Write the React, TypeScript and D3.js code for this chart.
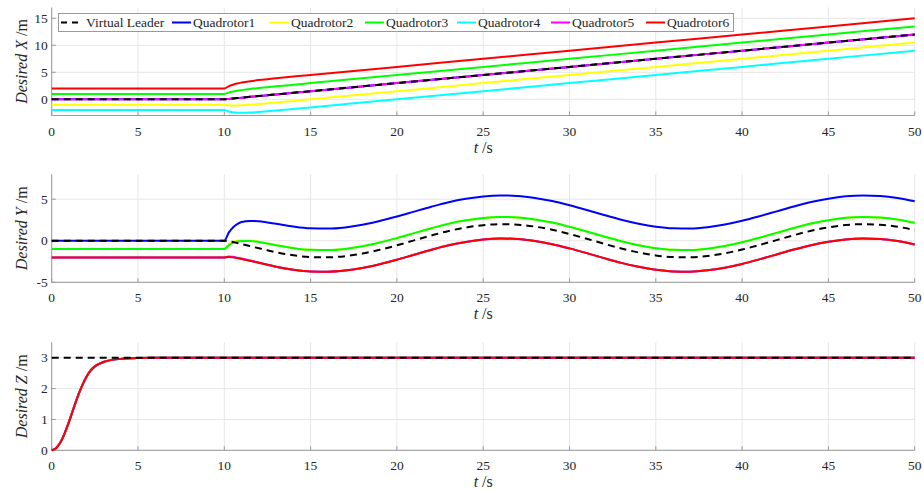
import React from 'react';
import * as d3 from 'd3';

// ---------- data ----------
const X_TICKS = [0, 5, 10, 15, 20, 25, 30, 35, 40, 45, 50];
const NAMES = ['Virtual Leader', 'Quadrotor1', 'Quadrotor2', 'Quadrotor3', 'Quadrotor4', 'Quadrotor5', 'Quadrotor6'];
const QUAD_COLORS = ['#0000ff', '#ffff00', '#00ff00', '#00ffff', '#ff00ff', '#ff0000'];

// Desired X
const T_X = [0, 10, 10.25, 10.5, 10.75, 11, 11.5, 12, 12.5, 13, 14, 15, 20, 25, 30, 35, 40, 45, 50];
const LEADER_X = [0, 0, 0.075, 0.15, 0.225, 0.3, 0.45, 0.6, 0.75, 0.9, 1.2, 1.5, 3, 4.5, 6, 7.5, 9, 10.5, 12];
const Q1_X = [0, 0, 0.075, 0.15, 0.225, 0.3, 0.45, 0.6, 0.75, 0.9, 1.2, 1.5, 3, 4.5, 6, 7.5, 9, 10.5, 12];
const Q2_X = [-1, -1, -1.09, -1.13, -1.13, -1.1, -1.01, -0.88, -0.74, -0.6, -0.3, 0, 1.5, 3, 4.5, 6, 7.5, 9, 10.5];
const Q3_X = [1, 1, 1.24, 1.43, 1.58, 1.7, 1.91, 2.08, 2.24, 2.4, 2.7, 3, 4.5, 6, 7.5, 9, 10.5, 12, 13.5];
const Q4_X = [-2, -2, -2.25, -2.4, -2.48, -2.5, -2.46, -2.36, -2.23, -2.09, -1.8, -1.5, 0, 1.5, 3, 4.5, 6, 7.5, 9];
const Q5_X = [0, 0, 0.075, 0.15, 0.225, 0.3, 0.45, 0.6, 0.75, 0.9, 1.2, 1.5, 3, 4.5, 6, 7.5, 9, 10.5, 12];
const Q6_X = [2, 2, 2.4, 2.7, 2.93, 3.1, 3.36, 3.56, 3.73, 3.89, 4.2, 4.5, 6, 7.5, 9, 10.5, 12, 13.5, 15];

// Desired Y
const T_Y = [0, 10, 10.25, 10.5, 10.75, 11, 11.5, 12, 12.5, 13,
  14, 15, 16, 17, 18, 19, 20, 21, 22, 23, 24, 25, 26, 27, 28, 29, 30, 31, 32,
  33, 34, 35, 36, 37, 38, 39, 40, 41, 42, 43, 44, 45, 46, 47, 48, 49, 50];
const LEADER_Y = [0, 0, -0.05, -0.15, -0.28, -0.4, -0.65, -0.9, -1.15, -1.39,
  -1.75, -1.96, -1.99, -1.85, -1.54, -1.09, -0.55, 0.05, 0.64, 1.18, 1.59, 1.88, 2.0, 1.94, 1.7, 1.32, 0.81, 0.24, -0.36,
  -0.93, -1.41, -1.77, -1.96, -1.99, -1.83, -1.51, -1.06, -0.51, 0.08, 0.67, 1.2, 1.61, 1.89, 2.0, 1.93, 1.69, 1.29];
const Q1_Y = [0, 0, 0.95, 1.6, 2.0, 2.25, 2.38, 2.35, 2.2, 2.05,
  1.71, 1.5, 1.47, 1.61, 1.92, 2.37, 2.91, 3.51, 4.1, 4.64, 5.05, 5.34, 5.46, 5.4, 5.16, 4.78, 4.27, 3.7, 3.1,
  2.53, 2.05, 1.69, 1.5, 1.47, 1.63, 1.95, 2.4, 2.95, 3.54, 4.13, 4.66, 5.07, 5.35, 5.46, 5.39, 5.15, 4.75];
const Q2_Y = [-1, -1, -0.42, -0.12, 0.04, 0.06, 0.0, -0.13, -0.33, -0.53,
  -0.88, -1.09, -1.12, -0.98, -0.67, -0.22, 0.32, 0.92, 1.51, 2.05, 2.46, 2.75, 2.87, 2.81, 2.57, 2.19, 1.68, 1.11, 0.51,
  -0.06, -0.54, -0.9, -1.09, -1.12, -0.96, -0.64, -0.19, 0.36, 0.95, 1.54, 2.07, 2.48, 2.76, 2.87, 2.8, 2.56, 2.16];
const Q3_Y = [-1, -1, -0.55, -0.25, -0.08, -0.02, -0.03, -0.15, -0.34, -0.53,
  -0.88, -1.09, -1.12, -0.98, -0.67, -0.22, 0.32, 0.92, 1.51, 2.05, 2.46, 2.75, 2.87, 2.81, 2.57, 2.19, 1.68, 1.11, 0.51,
  -0.06, -0.54, -0.9, -1.09, -1.12, -0.96, -0.64, -0.19, 0.36, 0.95, 1.54, 2.07, 2.48, 2.76, 2.87, 2.8, 2.56, 2.16];
const Q4_Y = [-2, -2, -1.96, -2.0, -2.09, -2.19, -2.41, -2.64, -2.89, -3.12,
  -3.48, -3.69, -3.72, -3.58, -3.27, -2.82, -2.28, -1.68, -1.09, -0.55, -0.14, 0.15, 0.27, 0.21, -0.03, -0.41, -0.92, -1.49, -2.09,
  -2.66, -3.14, -3.5, -3.69, -3.72, -3.56, -3.24, -2.79, -2.24, -1.65, -1.06, -0.53, -0.12, 0.16, 0.27, 0.2, -0.04, -0.44];
const Q5_Y = [-2, -2, -1.9, -1.93, -2.03, -2.14, -2.38, -2.62, -2.88, -3.12,
  -3.48, -3.69, -3.72, -3.58, -3.27, -2.82, -2.28, -1.68, -1.09, -0.55, -0.14, 0.15, 0.27, 0.21, -0.03, -0.41, -0.92, -1.49, -2.09,
  -2.66, -3.14, -3.5, -3.69, -3.72, -3.56, -3.24, -2.79, -2.24, -1.65, -1.06, -0.53, -0.12, 0.16, 0.27, 0.2, -0.04, -0.44];
const Q6_Y = [-2, -2, -1.96, -2.0, -2.09, -2.19, -2.41, -2.64, -2.89, -3.12,
  -3.48, -3.69, -3.72, -3.58, -3.27, -2.82, -2.28, -1.68, -1.09, -0.55, -0.14, 0.15, 0.27, 0.21, -0.03, -0.41, -0.92, -1.49, -2.09,
  -2.66, -3.14, -3.5, -3.69, -3.72, -3.56, -3.24, -2.79, -2.24, -1.65, -1.06, -0.53, -0.12, 0.16, 0.27, 0.2, -0.04, -0.44];

// Desired Z
const T_Z = [0, 0.25, 0.5, 0.75, 1, 1.25, 1.5, 1.75, 2, 2.25, 2.5, 3, 3.5, 4, 4.5, 5, 6, 8, 10, 50];
const LEADER_Z = [3, 3, 3, 3, 3, 3, 3, 3, 3, 3, 3, 3, 3, 3, 3, 3, 3, 3, 3, 3];
const QUAD_Z = [0, 0.07, 0.25, 0.55, 0.92, 1.33, 1.73, 2.08, 2.37, 2.58, 2.72, 2.86, 2.93, 2.96, 2.98, 2.99, 3, 3, 3, 3];

const Y_TICKS_X = [0, 5, 10, 15];
const Y_TICKS_Y = [-5, 0, 5];
const Y_TICKS_Z = [0, 1, 2, 3];

// ---------- layout ----------
const W = 924, H = 490;
const PLOT_LEFT = 51.7, PLOT_RIGHT = 914.7;
const FONT = '"Liberation Serif", "Times New Roman", Times, "DejaVu Serif", serif';
const GRID = '#e6e6e6';
const AXIS = '#9a9a9a';
const TXT = '#262626';
const fontStyle = { fontFamily: FONT };

const panels = [
  { top: 7.5, bottom: 115.5, domain: [-3, 17], ticks: Y_TICKS_X, sym: 'X', t: T_X, leader: LEADER_X,
    quads: [Q1_X, Q2_X, Q3_X, Q4_X, Q5_X, Q6_X] },
  { top: 174.3, bottom: 282.3, domain: [-5, 8], ticks: Y_TICKS_Y, sym: 'Y', t: T_Y, leader: LEADER_Y,
    quads: [Q1_Y, Q2_Y, Q3_Y, Q4_Y, Q5_Y, Q6_Y] },
  { top: 342.3, bottom: 450.3, domain: [0, 3.5], ticks: Y_TICKS_Z, sym: 'Z', t: T_Z, leader: LEADER_Z,
    quads: [QUAD_Z, QUAD_Z, QUAD_Z, QUAD_Z, QUAD_Z, QUAD_Z] },
];

const LEGEND_TEXT_X = [86, 193, 291, 386, 478, 572, 667];

export default function App() {
  const x = d3.scaleLinear().domain([0, 50]).range([PLOT_LEFT, PLOT_RIGHT]);
  return (
    <svg width={W} height={H} viewBox={`0 0 ${W} ${H}`}
      style={{ position: 'absolute', left: 0, top: 0, background: '#fff', fontFamily: FONT }}>
      <rect x={0} y={0} width={W} height={H} fill="#fff" />
      {panels.map((p, pi) => {
        const y = d3.scaleLinear().domain(p.domain).range([p.bottom, p.top]);
        const line = d3.line<number>()
          .x((_, i) => x(p.t[i]))
          .y((d) => y(d))
          .curve(d3.curveMonotoneX);
        const cy = (p.top + p.bottom) / 2;
        return (
          <g key={pi}>
            {X_TICKS.map((v) => (
              <line key={'gx' + v} x1={x(v)} x2={x(v)} y1={p.top} y2={p.bottom} stroke={GRID} strokeWidth={1} />
            ))}
            {p.ticks.map((v) => (
              <line key={'gy' + v} x1={PLOT_LEFT} x2={PLOT_RIGHT} y1={y(v)} y2={y(v)} stroke={GRID} strokeWidth={1} />
            ))}
            <line x1={PLOT_LEFT} x2={PLOT_LEFT} y1={p.top} y2={p.bottom} stroke={AXIS} strokeWidth={1} />
            <line x1={PLOT_LEFT} x2={PLOT_RIGHT} y1={p.bottom} y2={p.bottom} stroke={AXIS} strokeWidth={1} />
            {X_TICKS.map((v) => (
              <g key={'tx' + v}>
                <line x1={x(v)} x2={x(v)} y1={p.bottom} y2={p.bottom - 4} stroke={AXIS} strokeWidth={1} />
                <text x={x(v)} y={p.bottom + 20} textAnchor="middle" fontSize={13.5} fill={TXT} style={fontStyle}>{v}</text>
              </g>
            ))}
            {p.ticks.map((v) => (
              <g key={'ty' + v}>
                <line x1={PLOT_LEFT} x2={PLOT_LEFT + 4} y1={y(v)} y2={y(v)} stroke={AXIS} strokeWidth={1} />
                <text x={PLOT_LEFT - 4} y={y(v) + 4.7} textAnchor="end" fontSize={13.5} fill={TXT} style={fontStyle}>{v}</text>
              </g>
            ))}
            {p.quads.map((q, qi) => (
              <path key={'q' + qi} d={line(q) || ''} fill="none" stroke={QUAD_COLORS[qi]} strokeWidth={2}
                strokeLinejoin="round" />
            ))}
            <path d={line(p.leader) || ''} fill="none" stroke="#000" strokeWidth={2} strokeDasharray="7,5" />
            <text transform={`translate(26.5, ${cy}) rotate(-90)`} textAnchor="middle" fontSize={16} fill={TXT} style={fontStyle}>
              <tspan fontStyle="italic">Desired {p.sym}</tspan>
              <tspan> /m</tspan>
            </text>
            <text x={x(25)} y={p.bottom + 37} textAnchor="middle" fontSize={16} fill={TXT} style={fontStyle}>
              <tspan fontStyle="italic">t</tspan>
              <tspan> /s</tspan>
            </text>
          </g>
        );
      })}
      {/* legend */}
      <g>
        <rect x={58.5} y={13.5} width={675} height={18} fill="#fff" stroke={AXIS} strokeWidth={1} />
        {NAMES.map((n, i) => {
          const tx = LEGEND_TEXT_X[i];
          const isLeader = i === 0;
          return (
            <g key={n}>
              <line x1={isLeader ? 61 : tx - 21} x2={isLeader ? 80 : tx - 2} y1={22.5} y2={22.5}
                stroke={isLeader ? '#000' : QUAD_COLORS[i - 1]} strokeWidth={2}
                strokeDasharray={isLeader ? '6,5' : undefined} />
              <text x={tx} y={27.3} fontSize={13.5} fill={TXT} style={fontStyle}>{n}</text>
            </g>
          );
        })}
      </g>
    </svg>
  );
}
